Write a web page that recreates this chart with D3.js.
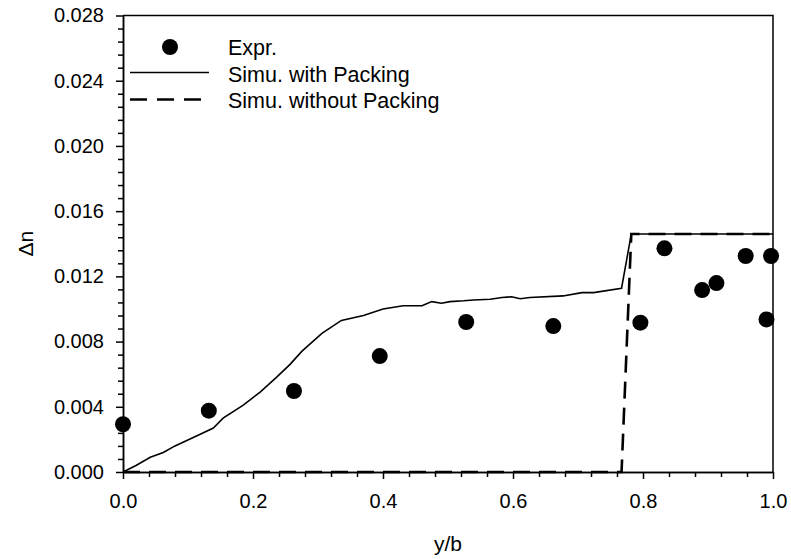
<!DOCTYPE html>
<html lang="en">
  <head>
    <meta charset="utf-8">
    <title>Delta n vs y/b</title>
    <script src="https://d3js.org/d3.v7.min.js"></script>
    <style>
      body { margin: 0; background: #fff; }
      text { font-family: "Liberation Sans", Arial, sans-serif; fill: #000; }
      .axis path, .axis line { stroke: #000; stroke-width: 1.5; }
      .axis text { font-size: 20px; }
    </style>
  </head>
  <body>
    <div id="chart"></div>
    <script>
// experimental points (y/b, delta n)
var exprX = [0.0, 0.132, 0.263, 0.395, 0.528, 0.662, 0.796, 0.833, 0.891, 0.913, 0.958, 0.997, 0.990];
var exprY = [0.00293, 0.00376, 0.00497, 0.00711, 0.0092, 0.00895, 0.00916, 0.01372, 0.01116, 0.01159, 0.01325, 0.01325, 0.00936];

// simulation with packing
var packX = [0, 0.02, 0.042, 0.062, 0.08, 0.118, 0.139, 0.154, 0.185, 0.211, 0.236, 0.257, 0.275, 0.306, 0.336, 0.37, 0.4, 0.431, 0.46, 0.475, 0.49, 0.503, 0.524, 0.539, 0.565, 0.583, 0.598, 0.611, 0.626, 0.677, 0.706, 0.724, 0.767, 0.782, 1.0];
var packY = [0, 0.0004, 0.0009, 0.0012, 0.0016, 0.0023, 0.0027, 0.0033, 0.0041, 0.0049, 0.0058, 0.0066, 0.0074, 0.0085, 0.0093, 0.0096, 0.0100, 0.0102, 0.0102, 0.01045, 0.01035, 0.01045, 0.0105, 0.01055, 0.0106, 0.0107, 0.01075, 0.01063, 0.0107, 0.0108, 0.0110, 0.0110, 0.01127, 0.0146, 0.0146];

// simulation without packing
var noPackX = [0, 0.767, 0.782, 1.0];
var noPackY = [0, 0, 0.0146, 0.0146];

// ticks
var xTicks = [0, 0.2, 0.4, 0.6, 0.8, 1.0];
var yTicks = [0, 0.004, 0.008, 0.012, 0.016, 0.020, 0.024, 0.028];
var legendLabels = ["Expr.", "Simu. with Packing", "Simu. without Packing"];

// margins, view size
var m = {top: 15.5, right: 18, bottom: 87, left: 123};
var w_view = 791;
var h_view = 559;
var w_chart = w_view - m.left - m.right;
var h_chart = h_view - m.top - m.bottom;

var svg = d3.select("#chart")
            .append("svg")
            .attr("width", w_view)
            .attr("height", h_view);

var x = d3.scaleLinear().domain([0, 1]).range([m.left, m.left + w_chart]);
var y = d3.scaleLinear().domain([0, 0.028]).range([m.top + h_chart, m.top]);

// minor ticks
var xMinor = d3.range(0, 1.0001, 0.04).filter(v => Math.abs(v / 0.2 - Math.round(v / 0.2)) > 1e-6);
var yMinor = d3.range(0, 0.02801, 0.0008).filter(v => Math.abs(v / 0.004 - Math.round(v / 0.004)) > 1e-6);

svg.append("g")
   .attr("class", "axis")
   .attr("transform", "translate(0," + (m.top + h_chart) + ")")
   .call(d3.axisBottom(x).tickValues(xMinor).tickSize(5).tickSizeOuter(0).tickFormat(""));
svg.append("g")
   .attr("class", "axis")
   .attr("transform", "translate(" + m.left + ",0)")
   .call(d3.axisLeft(y).tickValues(yMinor).tickSize(5).tickSizeOuter(0).tickFormat(""));

// major ticks + labels
svg.append("g")
   .attr("class", "axis")
   .attr("transform", "translate(0," + (m.top + h_chart) + ")")
   .call(d3.axisBottom(x).tickValues(xTicks).tickSize(7).tickSizeOuter(0).tickPadding(15).tickFormat(d3.format(".1f")));
svg.append("g")
   .attr("class", "axis")
   .attr("transform", "translate(" + m.left + ",0)")
   .call(d3.axisLeft(y).tickValues(yTicks).tickSize(7).tickSizeOuter(0).tickPadding(12).tickFormat(d3.format(".3f")));

// top and right border
svg.append("path")
   .attr("d", "M" + m.left + "," + m.top + "H" + (m.left + w_chart) + "V" + (m.top + h_chart))
   .style("fill", "none")
   .style("stroke", "#000")
   .style("stroke-width", 1.5);

// axis labels
svg.append("text")
   .attr("x", m.left + w_chart / 2)
   .attr("y", 551)
   .style("font-size", "21px")
   .style("text-anchor", "middle")
   .text("y/b");

svg.append("text")
   .attr("transform", "translate(33," + (m.top + h_chart / 2) + ") rotate(-90)")
   .style("font-size", "21px")
   .style("text-anchor", "middle")
   .text("Δn");

var line = d3.line().x(d => x(d[0])).y(d => y(d[1]));

// lines
svg.append("path")
   .datum(noPackX.map((v, i) => [v, noPackY[i]]))
   .attr("d", line)
   .style("fill", "none")
   .style("stroke", "#000")
   .style("stroke-width", 2.6)
   .style("stroke-dasharray", "17,9");

svg.append("path")
   .datum(packX.map((v, i) => [v, packY[i]]))
   .attr("d", line)
   .style("fill", "none")
   .style("stroke", "#000")
   .style("stroke-width", 1.6);

// points
svg.append("g")
   .selectAll("circle")
   .data(exprX.map((v, i) => [v, exprY[i]]))
   .join("circle")
   .attr("cx", d => x(d[0]))
   .attr("cy", d => y(d[1]))
   .attr("r", 8)
   .style("fill", "#000");

// legend
var lg = svg.append("g");
lg.append("circle").attr("cx", 170).attr("cy", 47).attr("r", 8).style("fill", "#000");
lg.append("line").attr("x1", 130).attr("x2", 209).attr("y1", 72.5).attr("y2", 72.5)
  .style("stroke", "#000").style("stroke-width", 1.6);
lg.append("line").attr("x1", 130).attr("x2", 202).attr("y1", 99.5).attr("y2", 99.5)
  .style("stroke", "#000").style("stroke-width", 2.6).style("stroke-dasharray", "17,10");
lg.selectAll("text.leg")
  .data(legendLabels)
  .join("text")
  .attr("class", "leg")
  .attr("x", 228)
  .attr("y", (d, i) => 55 + i * 26.5)
  .style("font-size", "21.5px")
  .text(d => d);
    </script>
  </body>
</html>
